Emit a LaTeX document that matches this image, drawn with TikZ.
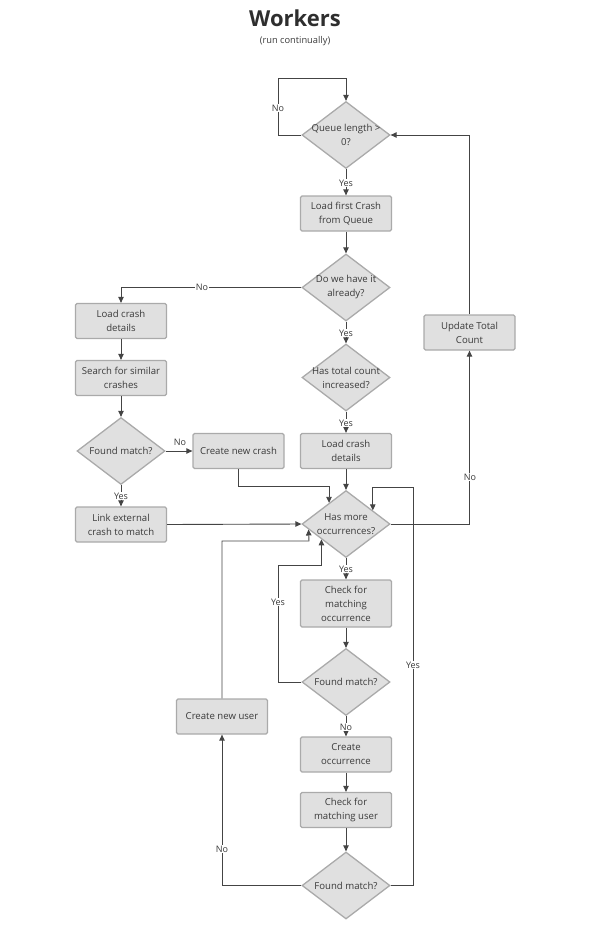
\documentclass[tikz,border=0pt]{standalone}
\usepackage{fontspec}
\setmainfont{Open Sans}
\usetikzlibrary{shapes.geometric,arrows.meta,calc}
\definecolor{boxfill}{HTML}{E0E0E0}
\definecolor{boxline}{HTML}{AAAAAA}
\definecolor{wire}{HTML}{444444}
\definecolor{txt}{HTML}{3A3A3A}
\begin{document}
\begin{tikzpicture}[x=1pt,y=-1pt,
  stepbox/.style={rectangle,rounded corners=1.5pt,fill=boxfill,draw=boxline,line width=1.3pt,
    minimum width=91pt,minimum height=35pt,inner sep=2pt,align=center,text=txt,
    font=\fontsize{9.6}{14}\selectfont},
  dia/.style={diamond,fill=boxfill,draw=boxline,line width=1.3pt,inner sep=0pt,
    minimum width=88pt,minimum height=67pt},
  dtext/.style={align=center,text=txt,inner sep=0pt,font=\fontsize{9.6}{14}\selectfont},
  arr/.style={draw=wire,line width=0.9pt,-{Triangle[length=6pt,width=5.5pt]}},
  lab/.style={fill=white,inner sep=1pt,text=txt,font=\fontsize{9}{10}\selectfont},
  labn/.style={inner sep=1pt,text=txt,font=\fontsize{9}{10}\selectfont}]
\useasboundingbox (0,0) rectangle (596,929);
\node[text=txt!80!black,font=\fontsize{22}{26}\bfseries] (title) at (295,18) {Workers};
\node[text=txt,font=\fontsize{9.3}{11}\selectfont] (sub) at (295,41) {(run continually)};

% main column
\node[dia] (d1) at (346,135) {};
\node[dtext] (d1t) at (d1) {Queue length >\\0?};
\node[stepbox] (b1) at (346,213.5) {Load first Crash\\from Queue};
\node[dia] (d2) at (346,287.5) {};
\node[dtext] (d2t) at (d2) {Do we have it\\already?};
\node[dia] (d3) at (346,377.5) {};
\node[dtext] (d3t) at (d3) {Has total count\\increased?};
\node[stepbox] (mcd) at (346,451) {Load crash\\details};
\node[dia] (d5) at (346,524) {};
\node[dtext] (d5t) at (d5) {Has more\\occurrences?};
\node[stepbox,minimum height=47pt] (cmo) at (346,603.5) {Check for\\matching\\occurrence};
\node[dia] (d6) at (346,682) {};
\node[dtext] (d6t) at (d6) {Found match?};
\node[stepbox] (co) at (346,754.5) {Create\\occurrence};
\node[stepbox] (cmu) at (346,810) {Check for\\matching user};
\node[dia] (d7) at (346,885.5) {};
\node[dtext] (d7t) at (d7) {Found match?};

% left column
\node[stepbox] (lcd) at (121,321) {Load crash\\details};
\node[stepbox] (sim) at (121,378) {Search for similar\\crashes};
\node[dia] (fm1) at (121,451) {};
\node[dtext] (fm1t) at (fm1) {Found match?};
\node[stepbox] (cnc) at (238.5,451) {Create new crash};
\node[stepbox] (link) at (121,524.5) {Link external\\crash to match};
\node[stepbox] (cnu) at (222,716.5) {Create new user};

% right
\node[stepbox] (utc) at (469.5,332.5) {Update Total\\Count};

% helper coordinates
\coordinate (c1) at (278,78);
\coordinate (c6) at (278,565);
\coordinate (c7) at (309,541);
\coordinate (c8) at (413,487);
\coordinate (p1) at ($(d5.north)!0.38!(d5.west)$);
\coordinate (p4) at ($(d5.north)!0.6!(d5.east)$);
\coordinate (p2) at ($(d5.south)!0.55!(d5.west)$);
\coordinate (p3) at ($(d5.south)!0.84!(d5.west)$);

% connectors
\draw[arr] (d1.west) -| (c1) -| (d1.north);
\node[lab] (l1) at (278,108) {No};
\draw[arr] (d1.south) -- (b1.north);
\node[lab] (l2) at (346,183) {Yes};
\draw[arr] (b1.south) -- (d2.north);
\draw[arr] (d2.west) -| (lcd.north);
\node[lab] (l3) at (202,287.5) {No};
\draw[arr] (d2.south) -- (d3.north);
\node[lab] (l4) at (346,333) {Yes};
\draw[arr] (d3.south) -- (mcd.north);
\node[lab] (l5) at (346,423) {Yes};
\draw[arr] (mcd.south) -- (d5.north);
\draw[arr] (lcd.south) -- (sim.north);
\draw[arr] (sim.south) -- (fm1.north);
\draw[arr] (fm1.east) -- (cnc.west);
\node[labn] (l6) at (180,442) {No};
\draw[arr] (fm1.south) -- (link.north);
\node[lab] (l7) at (121,496) {Yes};
\draw[arr] (link.east) -- (d5.west);
\draw[arr] (cnc.south) |- ($(cnc.south)+(0,17)$) -| (p1);
\draw[arr] (d5.east) -| (utc.south);
\node[lab] (l8) at (470,477) {No};
\draw[arr] (utc.north) |- (d1.east);
\draw[arr] (d5.south) -- (cmo.north);
\node[lab] (l9) at (346,569) {Yes};
\draw[arr] (cmo.south) -- (d6.north);
\draw[arr] (d6.west) -| (c6) -| (p2);
\node[lab] (l10) at (278,602) {Yes};
\draw[arr] (d6.south) -- (co.north);
\node[lab] (l11) at (346,727) {No};
\draw[arr] (co.south) -- (cmu.north);
\draw[arr] (cmu.south) -- (d7.north);
\draw[arr] (d7.west) -| (cnu.south);
\node[lab] (l12) at (222,849) {No};
\draw[arr] (cnu.north) |- (c7) -- (p3);
\draw[arr] (d7.east) -| (c8) -| (p4);
\node[lab] (l13) at (413,665) {Yes};
\end{tikzpicture}
\end{document}
